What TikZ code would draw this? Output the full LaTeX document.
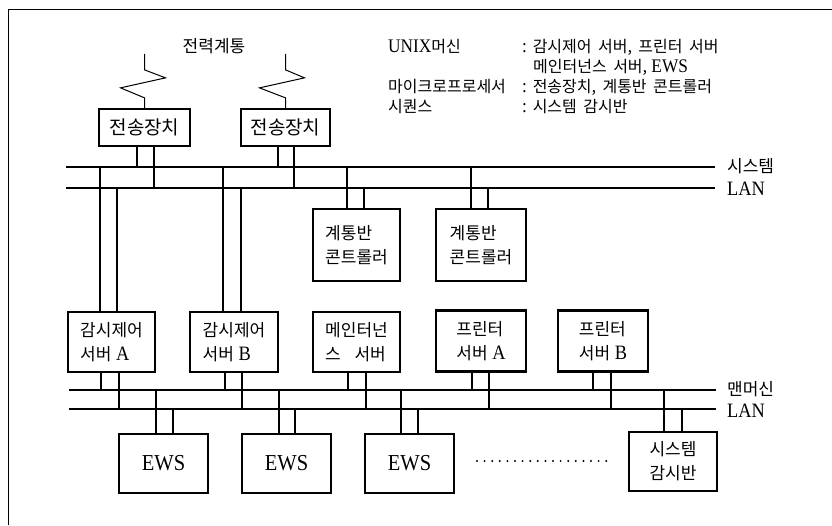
\documentclass[tikz,border=0pt]{standalone}
\usepackage{fontspec}
\setmainfont[Scale=1.2, FakeStretch=0.9]{Liberation Serif}
\newfontfamily\kr[WordSpace=1.8]{Noto Sans CJK KR}
\tikzset{
  box/.style={draw, line width=2.3pt, inner sep=0pt, align=left,
    font=\fontsize{17}{24}\selectfont},
  bus/.style={line width=2.9pt},
  stubline/.style={line width=1.2pt},
  frameline/.style={line width=0.9pt},
  zig/.style={line width=1pt},
  leg/.style={anchor=west, inner sep=0pt, font=\fontsize{16}{18}\selectfont},
  buslabel/.style={anchor=west, inner sep=0pt, font=\fontsize{17}{20}\selectfont},
  latinlabel/.style={anchor=west, inner sep=0pt, font=\fontsize{17}{20}\selectfont},
  ewsbox/.style={box, font=\fontsize{19}{24}\selectfont},
  dotline/.style={line width=2.2pt, line cap=round, dash pattern=on 0pt off 7.6pt}
}
\newcommand\stubto[3]{\draw[stubline] ([xshift=#2]#1) coordinate (tmpc) -- (tmpc |- #3);}
\begin{document}
\begin{tikzpicture}[x=1pt,y=-1pt]
\useasboundingbox (0,0) rectangle (832,525);
% frame
\draw[frameline] (8,525) -- (8,9) -- (832,9);

% legend
\node[leg] (k1) at (388,47) {UNIX{\kr 머신}};
\node[leg] (k2) at (388,87) {\kr 마이크로프로세서};
\node[leg] (k3) at (388,107) {\kr 시퀀스};
\node[leg] (c1) at (522,47) {: {\kr 감시제어 서버, 프린터 서버}};
\node[leg] (c1b) at (533,67) {{\kr 메인터넌스 서버,} EWS};
\node[leg] (c2) at (522,87) {: {\kr 전송장치, 계통반 콘트롤러}};
\node[leg] (c3) at (522,107) {: {\kr 시스템 감시반}};

\node[font=\fontsize{17}{20}\selectfont, inner sep=0pt] (pw) at (214,46) {\kr 전력계통};

% bus coordinates
\coordinate (ua) at (66,167);  \coordinate (uae) at (715,167);
\coordinate (ub) at (66,188);  \coordinate (ube) at (715,188);
\coordinate (la) at (69,390);  \coordinate (lae) at (716,390);
\coordinate (lb) at (69,409);  \coordinate (lbe) at (716,409);
\draw[bus] (ua) -- (uae);
\draw[bus] (ub) -- (ube);
\draw[bus] (la) -- (lae);
\draw[bus] (lb) -- (lbe);
\node[buslabel] (l1) at (727,166) {\kr 시스템};
\node[latinlabel] (l2) at (727,189) {LAN};
\node[buslabel] (l3) at (727,389) {\kr 맨머신};
\node[latinlabel] (l4) at (727,411) {LAN};

% boxes
\node[box, font=\fontsize{19}{24}\selectfont, minimum width=91, minimum height=37] (tx1) at (144.5,127.5) {\kr 전송장치};
\node[box, font=\fontsize{19}{24}\selectfont, minimum width=89, minimum height=37] (tx2) at (285.5,127.5) {\kr 전송장치};
\node[box, minimum width=87, minimum height=72] (gc1) at (356.5,245) {{\kr 계통반}\\{\kr 콘트롤러}};
\node[box, minimum width=90, minimum height=72] (gc2) at (481,245) {{\kr 계통반}\\{\kr 콘트롤러}};
\node[box, minimum width=87, minimum height=60] (svA) at (111.5,342) {{\kr 감시제어}\\{\kr 서버} A};
\node[box, minimum width=88, minimum height=60] (svB) at (234,342) {{\kr 감시제어}\\{\kr 서버} B};
\node[box, minimum width=87, minimum height=60] (mt) at (356.5,342) {{\kr 메인터넌}\\{\kr 스\ \ 서버}};
\node[box, minimum width=90, minimum height=61] (prA) at (481,341) {{\kr 프린터}\\{\kr 서버} A};
\node[box, minimum width=90, minimum height=61] (prB) at (603,341) {{\kr 프린터}\\{\kr 서버} B};
\node[ewsbox, minimum width=89, minimum height=59] (ews1) at (163.5,463.5) {EWS};
\node[ewsbox, minimum width=89, minimum height=59] (ews2) at (286.5,463.5) {EWS};
\node[ewsbox, minimum width=89, minimum height=59] (ews3) at (409.5,463.5) {EWS};
\node[box, minimum width=88, minimum height=59] (sys) at (673,461.5) {{\kr 시스템}\\{\kr 감시반}};

% zigzags
\draw[zig] (tx1.north) -- ++(0,-10) -- ++(-24,-10) -- ++(45,-10) -- ++(-21,-8) -- ++(0,-16) coordinate (z1);
\draw[zig] (tx2.north) -- ++(0,-10) -- ++(-26,-10) -- ++(45,-10) -- ++(-19,-8) -- ++(0,-16) coordinate (z2);

% stubs upper bus
\stubto{tx1.south}{-7.5}{ua}
\stubto{tx1.south}{9.5}{ub}
\stubto{tx2.south}{-7.5}{ua}
\stubto{tx2.south}{8.5}{ub}
\stubto{svA.north}{-11.5}{ua}
\stubto{svA.north}{5.5}{ub}
\stubto{svB.north}{-11}{ua}
\stubto{svB.north}{7}{ub}
\stubto{gc1.north}{-9.5}{ua}
\stubto{gc1.north}{7.5}{ub}
\stubto{gc2.north}{-10}{ua}
\stubto{gc2.north}{7}{ub}

% stubs lower bus
\stubto{svA.south}{-10.5}{la}
\stubto{svA.south}{7.5}{lb}
\stubto{svB.south}{-9}{la}
\stubto{svB.south}{8}{lb}
\stubto{mt.south}{-8.5}{la}
\stubto{mt.south}{9.5}{lb}
\stubto{prA.south}{-9}{la}
\stubto{prA.south}{8}{lb}
\stubto{prB.south}{-10}{la}
\stubto{prB.south}{8}{lb}
\stubto{ews1.north}{-7.5}{la}
\stubto{ews1.north}{9.5}{lb}
\stubto{ews2.north}{-7.5}{la}
\stubto{ews2.north}{8.5}{lb}
\stubto{ews3.north}{-8.5}{la}
\stubto{ews3.north}{8.5}{lb}
\stubto{sys.north}{-9}{la}
\stubto{sys.north}{9}{lb}

% dots
\coordinate (d1) at (477,461);
\coordinate (d2) at (607,461);
\draw[dotline] (d1) -- (d2);
\end{tikzpicture}
\end{document}
